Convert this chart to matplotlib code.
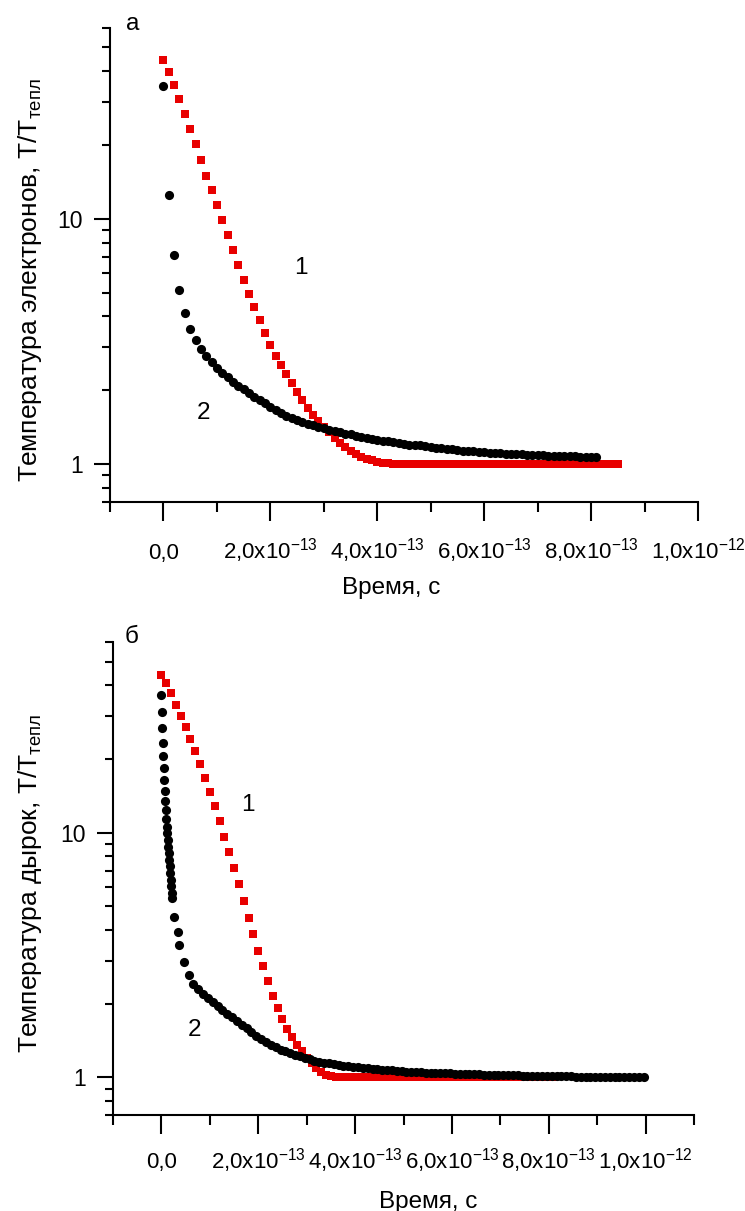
import numpy as np
import matplotlib
matplotlib.use("Agg")
import matplotlib.pyplot as plt
from matplotlib.ticker import FixedLocator, NullFormatter, FixedFormatter

plt.rcParams['font.family'] = ['Liberation Sans', 'DejaVu Sans']
plt.rcParams['mathtext.fontset'] = 'custom'
plt.rcParams['mathtext.rm'] = 'Liberation Sans'
plt.rcParams['mathtext.it'] = 'Liberation Sans:italic'
plt.rcParams['mathtext.bf'] = 'Liberation Sans:bold'

# ---------------- data (time in units of 1e-14 s, temperature T/T_тепл) ----------------
time_unit = 1e-14

# panel а: electrons
red_top_time = [0, 1, 2, 3, 4, 5, 6, 7, 8, 9, 10, 11, 12, 13, 14, 15, 16, 17, 18, 19,
                20, 21, 22, 23, 24, 25, 26, 27, 28, 29, 30, 31, 32, 33, 34, 35, 36, 37, 38, 39,
                40, 41, 42, 43, 44, 45, 46, 47, 48, 49, 50, 51, 52, 53, 54, 55, 56, 57, 58, 59,
                60, 61, 62, 63, 64, 65, 66, 67, 68, 69, 70, 71, 72, 73, 74, 75, 76, 77, 78, 79,
                80, 81, 82, 83, 84, 85]
red_top_T = [44.3, 39.8, 35.1, 30.8, 26.7, 23.2, 20.2, 17.4, 15.0, 13.1,
             11.4, 9.91, 8.61, 7.48, 6.50, 5.65, 4.95, 4.36, 3.85, 3.42,
             3.05, 2.77, 2.54, 2.32, 2.13, 1.97, 1.82, 1.70, 1.58, 1.50,
             1.42, 1.35, 1.28, 1.22, 1.17, 1.127, 1.096, 1.072, 1.052, 1.035,
             1.023, 1.014, 1.007, 1.004, 1.002, 1.0, 1.0, 1.0, 1.0, 1.0,
             1.0, 1.0, 1.0, 1.0, 1.0, 1.0, 1.0, 1.0, 1.0, 1.0,
             1.0, 1.0, 1.0, 1.0, 1.0, 1.0, 1.0, 1.0, 1.0, 1.0,
             1.0, 1.0, 1.0, 1.0, 1.0, 1.0, 1.0, 1.0, 1.0, 1.0,
             1.0, 1.0, 1.0, 1.0, 1.0, 1.0]

black_top_time = [0, 1, 2, 3, 4, 5, 6, 7, 8, 9, 10, 11, 12, 13, 14, 15, 16, 17, 18, 19,
                  20, 21, 22, 23, 24, 25, 26, 27, 28, 29, 30, 31, 32, 33, 34, 35, 36, 37, 38, 39,
                  40, 41, 42, 43, 44, 45, 46, 47, 48, 49, 50, 51, 52, 53, 54, 55, 56, 57, 58, 59,
                  60, 61, 62, 63, 64, 65, 66, 67, 68, 69, 70, 71, 72, 73, 74, 75, 76, 77, 78, 79,
                  80, 81]
black_top_T = [34.8, 12.5, 7.14, 5.11, 4.14, 3.56, 3.20, 2.95, 2.75, 2.60,
               2.47, 2.36, 2.26, 2.17, 2.09, 2.02, 1.95, 1.88, 1.82, 1.77,
               1.71, 1.66, 1.61, 1.57, 1.54, 1.51, 1.49, 1.46, 1.44, 1.42,
               1.40, 1.38, 1.36, 1.35, 1.33, 1.32, 1.30, 1.29, 1.28, 1.26,
               1.25, 1.24, 1.24, 1.23, 1.22, 1.21, 1.20, 1.19, 1.19, 1.18,
               1.17, 1.16, 1.16, 1.15, 1.15, 1.14, 1.135, 1.13, 1.125, 1.12,
               1.117, 1.112, 1.109, 1.107, 1.102, 1.099, 1.096, 1.094, 1.091, 1.089,
               1.086, 1.084, 1.081, 1.081, 1.079, 1.076, 1.074, 1.074, 1.072, 1.069,
               1.069, 1.067]

# panel б: holes
red_bot_time = [0, 1, 2, 3, 4, 5, 6, 7, 8, 9, 10, 11, 12, 13, 14, 15, 16, 17, 18, 19,
                20, 21, 22, 23, 24, 25, 26, 27, 28, 29, 30, 31, 32, 33, 34, 35, 36, 37, 38, 39,
                40, 41, 42, 43, 44, 45, 46, 47, 48, 49, 50, 51, 52, 53, 54, 55, 56, 57, 58, 59,
                60, 61, 62, 63, 64, 65, 66, 67, 68, 69, 70, 71, 72, 73, 74, 75, 76, 77, 78, 79,
                80, 81]
red_bot_T = [44.1, 40.9, 37.1, 33.2, 30.1, 27.1, 24.1, 21.5, 19.0, 16.7,
             14.7, 12.8, 11.2, 9.64, 8.32, 7.19, 6.18, 5.26, 4.48, 3.85,
             3.29, 2.84, 2.47, 2.15, 1.92, 1.73, 1.58, 1.46, 1.36, 1.28,
             1.20, 1.14, 1.09, 1.05, 1.026, 1.009, 1.002, 1.0, 1.0, 1.0,
             1.0, 1.0, 1.0, 1.0, 1.0, 1.0, 1.0, 1.0, 1.0, 1.0,
             1.0, 1.0, 1.0, 1.0, 1.0, 1.0, 1.0, 1.0, 1.0, 1.0,
             1.0, 1.0, 1.0, 1.0, 1.0, 1.0, 1.0, 1.0, 1.0, 1.0,
             1.0, 1.0, 1.0, 1.0, 1.0, 1.0, 1.0, 1.0, 1.0, 1.0,
             1.0, 1.0]

black_bot_time = [0.0, 0.1, 0.2, 0.3, 0.4, 0.5, 0.6, 0.7, 0.8, 0.9, 1.0, 1.1, 1.2, 1.3,
                  1.4, 1.5, 1.6, 1.7, 1.8, 1.9, 2.0, 2.1, 2.2,
                  2.5, 3.4, 3.7, 4.6, 5.6, 6.6,
                  7.6, 8.6, 9.6, 10.6, 11.6, 12.6, 13.6, 14.6, 15.6, 16.6,
                  17.6, 18.6, 19.6, 20.6, 21.6, 22.6, 23.6, 24.6, 25.6, 26.6,
                  27.6, 28.6, 29.6, 30.6, 31.6, 32.6, 33.6, 34.6, 35.6, 36.6,
                  37.6, 38.6, 39.6, 40.6, 41.6, 42.6, 43.6, 44.6, 45.6, 46.6,
                  47.6, 48.6, 49.6, 50.6, 51.6, 52.6, 53.6, 54.6, 55.6, 56.6,
                  57.6, 58.6, 59.6, 60.6, 61.6, 62.6, 63.6, 64.6, 65.6, 66.6,
                  67.6, 68.6, 69.6, 70.6, 71.6, 72.6, 73.6, 74.6, 75.6, 76.6,
                  77.6, 78.6, 79.6, 80.6, 81.6, 82.6, 83.6, 84.6, 85.6, 86.6,
                  87.6, 88.6, 89.6, 90.6, 91.6, 92.6, 93.6, 94.6, 95.6, 96.6,
                  97.6, 98.6, 99.6]
black_bot_T = [36.7, 31.0, 26.7, 23.3, 20.6, 18.3, 16.4, 14.8, 13.5, 12.4, 11.4, 10.6, 9.93,
               9.33, 8.77, 8.24, 7.74, 7.28, 6.82, 6.41, 6.03, 5.66, 5.40,
               4.52, 3.91, 3.48, 2.96, 2.62, 2.41,
               2.30, 2.20, 2.11, 2.03, 1.96, 1.89, 1.82, 1.76, 1.70, 1.64,
               1.59, 1.53, 1.48, 1.44, 1.39, 1.36, 1.33, 1.30, 1.28, 1.26,
               1.24, 1.22, 1.20, 1.19, 1.17, 1.16, 1.15, 1.14, 1.13, 1.125,
               1.117, 1.109, 1.104, 1.099, 1.094, 1.089, 1.084, 1.079, 1.074, 1.069,
               1.067, 1.064, 1.059, 1.057, 1.054, 1.052, 1.050, 1.047, 1.045, 1.042,
               1.042, 1.040, 1.038, 1.035, 1.033, 1.033, 1.030, 1.028, 1.028, 1.026,
               1.026, 1.023, 1.023, 1.021, 1.021, 1.019, 1.019, 1.016, 1.016, 1.014,
               1.014, 1.014, 1.012, 1.012, 1.012, 1.009, 1.009, 1.009, 1.007, 1.007,
               1.007, 1.007, 1.005, 1.005, 1.005, 1.005, 1.002, 1.002, 1.002, 1.002,
               1.002, 1.000, 1.000]

x_major_ticks = [0.0, 2e-13, 4e-13, 6e-13, 8e-13, 1e-12]
x_major_labels = ['0,0', '2,0x10$^{-13}$', '4,0x10$^{-13}$', '6,0x10$^{-13}$',
                  '8,0x10$^{-13}$', '1,0x10$^{-12}$']
y_major_ticks = [1, 10]
y_major_labels = ['1', '10']
y_minor_ticks = [0.7, 0.8, 0.9, 2, 3, 4, 5, 6, 7, 8, 9, 20, 30, 40, 50, 60]

xlabel = 'Время, с'
ylabel_top = 'Температура электронов, T/T$_{\\mathrm{тепл}}$'
ylabel_bot = 'Температура дырок, T/T$_{\\mathrm{тепл}}$'

RED = '#e80000'

fig = plt.figure(figsize=(7.45, 12.11), dpi=100)
ax1 = fig.add_axes([0.14765, 0.58547, 0.78926, 0.39141])
ax2 = fig.add_axes([0.15168, 0.07903, 0.77987, 0.39059])


def style(ax, xmax, x_minor, xpad, ylabel, ylab_xy, xlab_xy, letter, letter_xy):
    ax.set_yscale('log')
    ax.set_ylim(0.7, 60)
    ax.set_xlim(-1e-13, xmax)
    for s in ('top', 'right'):
        ax.spines[s].set_visible(False)
    for s in ('left', 'bottom'):
        ax.spines[s].set_linewidth(1.5)
    ax.xaxis.set_major_locator(FixedLocator(x_major_ticks))
    ax.xaxis.set_major_formatter(FixedFormatter(x_major_labels))
    ax.xaxis.set_minor_locator(FixedLocator(x_minor))
    ax.xaxis.set_minor_formatter(NullFormatter())
    ax.yaxis.set_major_locator(FixedLocator(y_major_ticks))
    ax.yaxis.set_major_formatter(FixedFormatter(y_major_labels))
    ax.yaxis.set_minor_locator(FixedLocator(y_minor_ticks))
    ax.yaxis.set_minor_formatter(NullFormatter())
    ax.tick_params(axis='x', which='major', direction='out', length=14, width=1.5,
                   pad=xpad, labelsize=16)
    ax.tick_params(axis='x', which='minor', direction='out', length=7.5, width=1.5)
    ax.tick_params(axis='y', which='major', direction='out', length=11.5, width=1.5,
                   pad=8, labelsize=16.5)
    ax.tick_params(axis='y', which='minor', direction='out', length=6, width=1.5)
    for lab in ax.get_xticklabels():
        lab.set_verticalalignment('baseline')
    ax.set_xlabel(xlabel, fontsize=17.5)
    ax.xaxis.set_label_coords(*xlab_xy)
    ax.set_ylabel(ylabel, fontsize=19)
    ax.yaxis.set_label_coords(*ylab_xy)
    ax.text(letter_xy[0], letter_xy[1], letter, transform=ax.transAxes,
            fontsize=17.5, ha='center', va='center')


# panel а
ax1.plot(np.array(red_top_time) * time_unit, red_top_T, linestyle='none', marker='s',
         ms=5.8, mew=0, color=RED, clip_on=False, zorder=3)
ax1.plot(np.array(black_top_time) * time_unit, black_top_T, linestyle='none', marker='o',
         ms=6.6, mew=0, color='black', clip_on=False, zorder=4)
ax1.text(2.57e-13, 6.3, '1', fontsize=17.5, ha='center', va='center')
ax1.text(0.75e-13, 1.61, '2', fontsize=17.5, ha='center', va='center')
style(ax1, 1e-12, [-1e-13, 1e-13, 3e-13, 5e-13, 7e-13, 9e-13], 27,
      ylabel_top, (-0.112, 0.468), (0.478, -0.158), 'а', (0.039, 1.008))

# panel б
ax2.plot(np.array(red_bot_time) * time_unit, red_bot_T, linestyle='none', marker='s',
         ms=5.8, mew=0, color=RED, clip_on=False, zorder=3)
ax2.plot(np.array(black_bot_time) * time_unit, black_bot_T, linestyle='none', marker='o',
         ms=6.6, mew=0, color='black', clip_on=False, zorder=4)
ax2.text(1.78e-13, 12.97, '1', fontsize=17.5, ha='center', va='center')
ax2.text(0.68e-13, 1.56, '2', fontsize=17.5, ha='center', va='center')
style(ax2, 1.1e-12, [-1e-13, 1e-13, 3e-13, 5e-13, 7e-13, 9e-13, 1.1e-12], 24,
      ylabel_bot, (-0.119, 0.491), (0.542, -0.161), 'б', (0.032, 1.012))

fig.savefig('out.png', dpi=100)
